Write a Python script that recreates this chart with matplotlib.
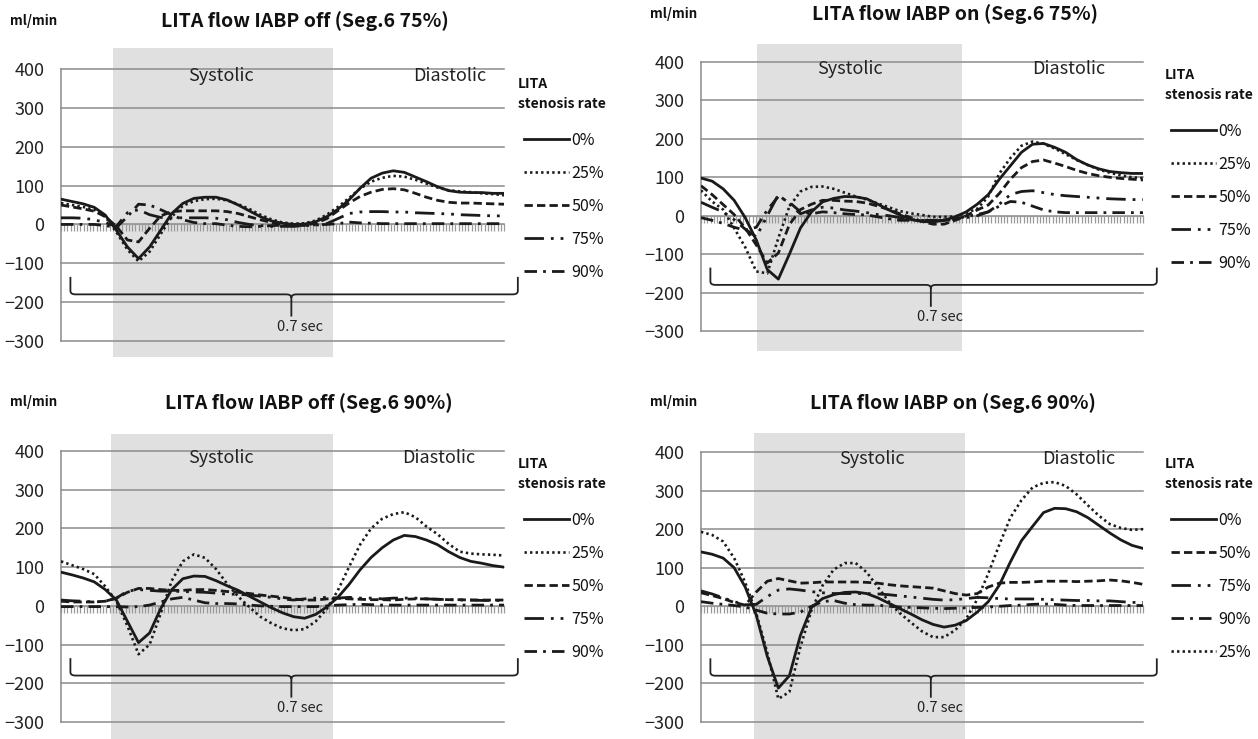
import numpy as np
import matplotlib
matplotlib.use("Agg")
import matplotlib.pyplot as plt
from matplotlib.path import Path
from matplotlib.patches import PathPatch

plt.rcParams['font.family'] = ['Noto Sans CJK JP', 'DejaVu Sans']

W, H = 1258, 739

# sample index along one heart cycle (41 samples)
x = np.arange(41)

# ---- IABP off, Seg.6 75% ----
off75_0 = [65, 59, 53, 44, 24, -15, -58, -88, -58, -15, 28, 54, 67, 70, 70, 63, 50, 35, 20, 9,
           3, 0, 1, 7, 20, 39, 63, 93, 119, 132, 138, 134, 122, 110, 97, 87, 83, 82, 82, 80, 80]
off75_25 = [55, 50, 45, 38, 20, -20, -65, -95, -70, -25, 20, 48, 60, 65, 66, 62, 52, 40, 25, 13,
            5, 2, 3, 10, 25, 45, 68, 92, 110, 120, 125, 123, 115, 105, 95, 88, 85, 83, 80, 78, 75]
off75_50 = [50, 45, 40, 34, 20, -5, -40, -45, -10, 22, 33, 35, 35, 35, 35, 33, 28, 20, 12, 5,
            0, -3, -2, 3, 15, 35, 55, 72, 83, 90, 92, 89, 80, 70, 62, 57, 55, 55, 54, 53, 52]
off75_75 = [17, 17, 16, 12, 5, -5, 30, 38, 25, 18, 17, 17, 17, 17, 16, 12, 5, 0, -3, -5,
            -5, -5, -3, -2, 2, 15, 28, 32, 33, 33, 32, 32, 30, 29, 28, 27, 25, 24, 23, 22, 22]
off75_90 = [0, 0, 0, 0, -3, -8, 20, 52, 50, 38, 25, 12, 5, 2, 2, -2, -5, -6, -5, -3,
            -2, -2, -2, -1, 0, 2, 6, 4, 3, 2, 2, 2, 2, 2, 2, 2, 2, 2, 2, 2, 2]

# ---- IABP on, Seg.6 75% ----
on75_0 = [98, 90, 70, 40, -5, -63, -140, -165, -100, -32, 10, 36, 45, 50, 49, 44, 30, 15, 2, -10,
          -15, -16, -12, -3, 10, 30, 55, 95, 130, 165, 186, 188, 178, 165, 146, 132, 122, 115, 112, 110, 110]
on75_25 = [66, 37, 16, -32, -82, -145, -150, -58, 24, 63, 75, 76, 70, 60, 50, 42, 32, 22, 12, 6,
           2, -3, -3, -2, 7, 18, 50, 110, 150, 182, 193, 187, 175, 160, 145, 132, 120, 112, 105, 100, 98]
on75_50 = [78, 55, 29, 3, -32, -76, -123, -97, -23, 16, 30, 40, 40, 38, 37, 33, 25, 16, 5, -5,
           -15, -22, -22, -12, 0, 15, 28, 58, 95, 125, 141, 145, 137, 128, 118, 110, 104, 100, 97, 95, 93]
on75_75 = [35, 22, 10, -10, -35, -55, 0, 55, 30, 5, 15, 22, 20, 15, 12, 8, 3, 0, -5, -10,
           -12, -13, -12, -10, -5, 0, 10, 30, 55, 63, 65, 60, 55, 52, 50, 48, 46, 44, 43, 42, 42]
on75_90 = [-5, -12, -20, -30, -38, -30, 15, 50, 35, 10, 5, 10, 8, 5, 3, 2, -3, -8, -12, -12,
           -12, -12, -11, -8, -2, 3, 10, 25, 37, 35, 25, 15, 10, 8, 8, 8, 8, 8, 8, 8, 8]

# ---- IABP off, Seg.6 90% ----
off90_0 = [87, 80, 72, 62, 42, 15, -40, -95, -70, -7, 42, 70, 77, 76, 65, 52, 40, 25, 10, -5,
           -18, -28, -32, -22, -3, 22, 55, 93, 125, 150, 170, 182, 179, 170, 158, 140, 125, 115, 110, 104, 100]
off90_25 = [115, 105, 95, 82, 50, 12, -52, -125, -100, -20, 65, 115, 133, 124, 95, 57, 24, -3, -28, -45,
            -58, -63, -60, -40, -8, 40, 100, 158, 200, 225, 237, 242, 229, 205, 185, 160, 140, 135, 133, 132, 130]
off90_50 = [12, 10, 10, 10, 12, 20, 35, 45, 45, 42, 40, 40, 42, 42, 40, 37, 35, 32, 28, 25,
            22, 18, 15, 15, 18, 20, 18, 17, 16, 16, 15, 17, 18, 18, 17, 16, 16, 15, 15, 15, 15]
off90_75 = [15, 13, 12, 10, 12, 20, 38, 42, 40, 38, 38, 37, 36, 35, 33, 30, 30, 28, 25, 22,
            18, 15, 18, 20, 22, 20, 22, 20, 20, 18, 20, 20, 20, 18, 17, 16, 15, 15, 14, 14, 14]
off90_90 = [-2, -2, -2, -2, -2, -2, -3, -2, 2, 10, 18, 22, 15, 8, 6, 6, 5, 2, 0, -1,
            -2, -2, -2, -2, 0, 2, 3, 4, 3, 2, 2, 2, 2, 2, 2, 2, 2, 2, 2, 2, 2]

# ---- IABP on, Seg.6 90% ----
on90_0 = [141, 135, 125, 100, 50, -23, -130, -212, -180, -75, -3, 20, 30, 36, 37, 33, 22, 8, -6, -20,
          -35, -47, -54, -49, -37, -15, 12, 55, 115, 170, 207, 243, 254, 253, 245, 230, 210, 190, 172, 158, 150]
on90_25 = [193, 185, 168, 125, 62, -18, -120, -240, -222, -105, -10, 54, 95, 112, 112, 88, 50, 12, -18, -42,
           -65, -80, -80, -62, -32, 18, 85, 160, 230, 275, 308, 320, 322, 312, 290, 262, 235, 213, 203, 198, 200]
on90_50 = [35, 28, 20, 10, 3, 37, 65, 72, 66, 60, 61, 63, 63, 63, 63, 62, 60, 56, 53, 51,
           49, 47, 40, 33, 29, 33, 50, 60, 62, 62, 63, 65, 65, 65, 64, 65, 66, 68, 66, 62, 57]
on90_75 = [40, 32, 22, 12, 4, 5, 25, 42, 45, 42, 38, 35, 33, 33, 33, 33, 32, 30, 27, 24,
           21, 18, 16, 17, 20, 23, 22, 20, 19, 19, 19, 18, 17, 16, 15, 15, 14, 14, 12, 10, 10]
on90_90 = [12, 8, 5, 2, -2, -10, -18, -20, -20, -15, 0, 12, 15, 8, 4, 3, 3, 0, -2, -3,
           -4, -5, -6, -5, -4, -3, -2, 0, 2, 3, 5, 6, 5, 3, 2, 2, 2, 2, 2, 2, 2]

titles = ["LITA flow IABP off (Seg.6 75%)", "LITA flow IABP on (Seg.6 75%)",
          "LITA flow IABP off (Seg.6 90%)", "LITA flow IABP on (Seg.6 90%)"]
series = [
    [("0%", off75_0), ("25%", off75_25), ("50%", off75_50), ("75%", off75_75), ("90%", off75_90)],
    [("0%", on75_0), ("25%", on75_25), ("50%", on75_50), ("75%", on75_75), ("90%", on75_90)],
    [("0%", off90_0), ("25%", off90_25), ("50%", off90_50), ("75%", off90_75), ("90%", off90_90)],
    [("0%", on90_0), ("50%", on90_50), ("75%", on90_75), ("90%", on90_90), ("25%", on90_25)],
]
# systolic window in sample units
systole = [(4.7, 24.6), (5.1, 23.6), (4.5, 24.6), (4.8, 23.9)]

styles = {
    "0%": "-",
    "25%": (0, (0.9, 1.2)),
    "50%": (0, (3, 1.5)),
    "75%": (0, (7, 2.5, 1, 2.5, 1, 2.5)),
    "90%": (0, (4.5, 2.2, 1, 2.2)),
}

# layout in pixels: axes (left, top, width, height), band top/bottom, title centre, legend corner
ax_px = [(61, 69, 443, 272), (701, 62, 442, 269), (61, 451, 443, 271), (701, 452, 442, 270)]
band_px = [(48, 357), (44, 351), (434, 739), (433, 739)]
title_px = [(305, 21), (955, 14), (309, 403), (953, 403)]
unit_px = [(10, 21), (650, 14), (10, 402), (650, 402)]
leg_px = [(518, 77), (1165, 68), (518, 457), (1165, 457)]
sys_x = [14.4, 13.5, 14.4, 15.5]
dia_x = [35.1, 33.3, 34.1, 34.2]

ink = "#1a1a1a"
grid_c = "#8c8c8c"


def draw_brace(ax, xl, xr, xm, yb, ytop, ystem):
    dx, dy = 0.45, 9
    verts = [(xl, ytop), (xl, yb + dy), (xl, yb), (xl + dx, yb),
             (xm - dx, yb), (xm, yb), (xm, yb - dy), (xm, ystem),
             (xm, yb - dy), (xm, yb), (xm + dx, yb),
             (xr - dx, yb), (xr, yb), (xr, yb + dy), (xr, ytop)]
    codes = [Path.MOVETO, Path.LINETO, Path.CURVE3, Path.CURVE3,
             Path.LINETO, Path.CURVE3, Path.CURVE3, Path.LINETO,
             Path.MOVETO, Path.CURVE3, Path.CURVE3,
             Path.LINETO, Path.CURVE3, Path.CURVE3, Path.LINETO]
    ax.add_patch(PathPatch(Path(verts, codes), fill=False, lw=1.3,
                           edgecolor="#222222", clip_on=False, zorder=3))


fig = plt.figure(figsize=(W / 100, H / 100), dpi=100)

for k in range(4):
    l, t, w, h = ax_px[k]
    ax = fig.add_axes([l / W, 1 - (t + h) / H, w / W, h / H])
    ax.set_xlim(0, 40)
    ax.set_ylim(-300, 400)

    btop, bbot = band_px[k]
    ax.axvspan(*systole[k], ymin=-(bbot - t - h) / h, ymax=1 + (t - btop) / h,
               color="#e0e0e0", lw=0, zorder=0.2, clip_on=False)

    lines = []
    for lab, vals in series[k]:
        ln, = ax.plot(x, vals, color=ink, lw=2.0 if lab != "25%" else 1.9,
                      linestyle=styles[lab], label=lab, zorder=3)
        lines.append(ln)

    ax.set_yticks(range(-300, 401, 100))
    ax.yaxis.grid(True, color=grid_c, lw=1.1)
    for gl in ax.get_ygridlines():
        gl.set_clip_on(False)
    ax.set_axisbelow("line")
    ax.spines[["top", "right"]].set_visible(False)
    ax.spines["left"].set_color(grid_c)
    ax.spines["left"].set_linewidth(1.1)
    ax.spines["bottom"].set_position(("data", 0))
    ax.spines["bottom"].set_color("#9a9a9a")
    ax.set_xticks(np.linspace(0, 40, 138))
    ax.tick_params(axis="x", length=5, width=0.9, color="#9a9a9a",
                   direction="out", labelbottom=False)
    ax.tick_params(axis="y", length=0, pad=12, labelsize=13, labelcolor="#222222")

    ax.text(sys_x[k], 382, "Systolic", ha="center", va="center", fontsize=13, color="#222222")
    ax.text(dia_x[k], 382, "Diastolic", ha="center", va="center", fontsize=13, color="#222222")

    draw_brace(ax, 0.85, 41.25, 20.8, -180, -135, -237)
    ax.text(21.6, -264, "0.7 sec", ha="center", va="center", fontsize=10.5, color="#222222")

    lx, ly = leg_px[k]
    fig.text(lx / W, 1 - ly / H, "LITA\nstenosis rate", ha="left", va="top",
             fontsize=10, fontweight="semibold", linespacing=1.55, color="#111111")
    ax.legend(handles=lines, loc="upper left", bbox_to_anchor=((lx + 6) / W, 1 - (ly + 55) / H),
              bbox_transform=fig.transFigure, frameon=False, borderpad=0, borderaxespad=0,
              handlelength=2.8, handletextpad=0.15, labelspacing=1.0, fontsize=11.5,
              labelcolor="#111111")

    tx, ty = title_px[k]
    fig.text(tx / W, 1 - ty / H, titles[k], ha="center", va="center",
             fontsize=14, fontweight="bold", color="#111111")
    ux, uy = unit_px[k]
    fig.text(ux / W, 1 - uy / H, "ml/min", ha="left", va="center",
             fontsize=9.5, fontweight="bold", color="#111111")

fig.savefig("out.png", dpi=100)
